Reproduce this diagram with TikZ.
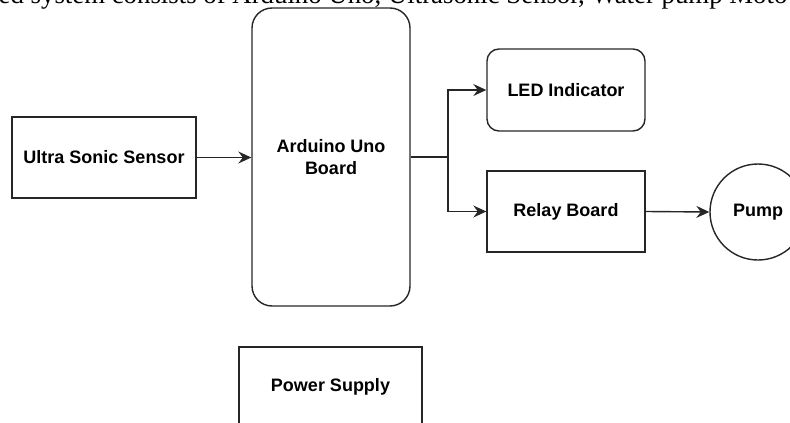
\documentclass[tikz,border=0pt]{standalone}
\usepackage{fontspec}
\setmainfont{Liberation Sans}
\newfontfamily\serifcap{Liberation Serif}
\usetikzlibrary{arrows.meta}
\tikzset{
  blk/.style={draw=black!85, line width=1.4pt, align=center,
    font=\bfseries\fontsize{18}{21.6}\selectfont, inner sep=0pt},
  arr/.style={draw=black!85, line width=1.4pt, -{Stealth[length=13pt,width=12pt,inset=4.5pt]}},
  ln/.style={draw=black!85, line width=1.4pt}
}
\begin{document}
\begin{tikzpicture}[x=1pt,y=-1pt]
\useasboundingbox (0,0) rectangle (790,423);
\clip (0,0) rectangle (790,423);
\node[anchor=base west, inner sep=0pt, font=\serifcap\fontsize{26.8}{30}\selectfont] (cap) at (-1.5,4) {ed system consists of Arduino Uno, Ultrasonic Sensor, Water pump Moto};
\node[blk, minimum width=184pt, minimum height=81pt] (sensor) at (104,157.5) {Ultra Sonic Sensor};
\node[blk, rounded corners=20pt, minimum width=158pt, minimum height=298pt] (arduino) at (331,157) {Arduino Uno\\Board};
\node[blk, rounded corners=12pt, minimum width=158pt, minimum height=82pt] (led) at (566,90) {LED Indicator};
\node[blk, minimum width=158pt, minimum height=81pt] (relay) at (566,211.5) {Relay Board};
\node[blk, circle, minimum size=96pt] (pump) at (758,212) {Pump};
\node[blk, minimum width=183pt, minimum height=80pt] (power) at (330.5,387) {Power Supply};
\coordinate (split) at (448,157);
\draw[arr] (sensor.east) -- (arduino.west |- sensor.east);
\draw[ln] (arduino.east) -- (split);
\draw[arr] (split) |- (led.west);
\draw[arr] (split) |- (relay.west);
\draw[arr] (relay.east) -- (pump.west);
\end{tikzpicture}
\end{document}
